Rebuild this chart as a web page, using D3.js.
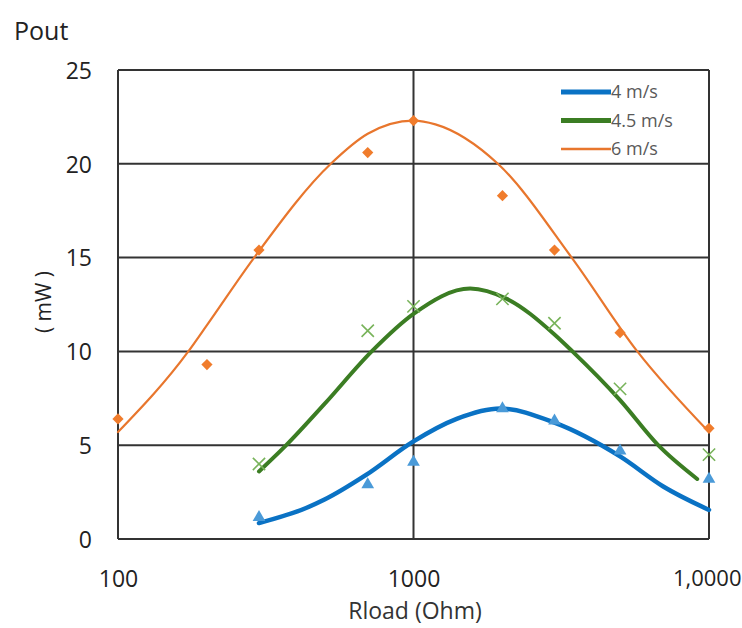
<!DOCTYPE html>
<html>
<head>
<meta charset="utf-8">
<script src="https://cdn.jsdelivr.net/npm/d3@7"></script>
<style>
  body { margin: 0; background: #fff; }
  text { font-family: "Open Sans", "Noto Sans", sans-serif; }
</style>
</head>
<body>
<script>
// measured points
const rload = [300, 700, 1000, 2000, 3000, 5000, 10000];
const p4 = [1.15, 2.9, 4.1, 6.95, 6.3, 4.7, 3.2];
const p45 = [4.0, 11.1, 12.4, 12.8, 11.5, 8.0, 4.5];
const rload6 = [100, 200, 300, 700, 1000, 2000, 3000, 5000, 10000];
const p6 = [6.4, 9.3, 15.4, 20.6, 22.3, 18.3, 15.4, 11.0, 5.9];

// trend curves
const fit4x = [300, 433, 500, 689, 1000, 1400, 1963, 3000, 5000, 7000, 10000];
const fit4y = [0.85, 1.65, 2.1, 3.4, 5.2, 6.4, 6.95, 6.2, 4.4, 2.8, 1.55];
const fit45x = [300, 371, 500, 722, 1000, 1555, 2070, 3000, 3450, 5000, 6730, 9120];
const fit45y = [3.6, 5.0, 7.2, 10.0, 12.0, 13.35, 12.8, 10.9, 10.0, 7.4, 5.0, 3.2];
const fit6x = [100, 173, 200, 289, 525, 700, 1000, 1186, 1930, 3430, 5720, 10000];
const fit6y = [5.7, 10.0, 11.4, 15.0, 20.0, 21.6, 22.3, 22.1, 20.0, 15.0, 10.0, 5.7];

const yTicks = [0, 5, 10, 15, 20, 25];
const xTicks = [100, 1000, 10000];
const xTickLabels = ["100", "1000", "1,0000"];
const seriesNames = ["4 m/s", "4.5 m/s", "6 m/s"];

const W = 742, H = 628;
const plotL = 118, plotR = 709, plotT = 70, plotB = 539;

const svg = d3.select("body").append("svg")
  .attr("width", W).attr("height", H);

const x = d3.scaleLog().domain([100, 10000]).range([plotL, plotR]);
const y = d3.scaleLinear().domain([0, 25]).range([plotB, plotT]);

// grid
svg.append("g").selectAll("line")
  .data(yTicks)
  .enter().append("line")
  .attr("x1", plotL).attr("x2", plotR)
  .attr("y1", d => y(d)).attr("y2", d => y(d))
  .attr("stroke", "#333").attr("stroke-width", 2);

svg.append("g").selectAll("line")
  .data(xTicks)
  .enter().append("line")
  .attr("x1", d => x(d)).attr("x2", d => x(d))
  .attr("y1", plotT).attr("y2", plotB)
  .attr("stroke", "#333").attr("stroke-width", 2);

// tick labels through d3 axes, axis lines hidden
const yAxis = svg.append("g")
  .attr("transform", "translate(" + (plotL - 26) + ",0)")
  .call(d3.axisLeft(y).tickValues(yTicks).tickSize(0).tickPadding(0));
yAxis.select(".domain").remove();
yAxis.selectAll("text")
  .style("font-size", "23px").attr("fill", "#222")
  .style("font-family", "'Open Sans', sans-serif")
  .attr("dy", "0.36em");

const xAxis = svg.append("g")
  .attr("transform", "translate(0," + (plotB + 26) + ")")
  .call(d3.axisBottom(x).tickValues(xTicks).tickFormat((d, i) => xTickLabels[i]).tickSize(0).tickPadding(0));
xAxis.select(".domain").remove();
xAxis.selectAll("text")
  .style("font-size", "23px").attr("fill", "#222")
  .style("font-family", "'Open Sans', sans-serif")
  .attr("dy", "0.95em");
xAxis.selectAll("text")
  .filter((d, i) => i == 2)
  .attr("text-anchor", "end")
  .attr("x", 741 - x(10000))
  .style("font-size", "22px");

svg.append("text")
  .attr("x", 14).attr("y", 40)
  .style("font-size", "25px").attr("fill", "#222")
  .text("Pout");

svg.append("text")
  .attr("transform", "translate(51,302) rotate(-90)")
  .attr("text-anchor", "middle")
  .style("font-size", "21px").attr("fill", "#222")
  .text("( mW )");

svg.append("text")
  .attr("x", 415).attr("y", 619)
  .attr("text-anchor", "middle")
  .style("font-size", "23px").attr("fill", "#333")
  .text("Rload (Ohm)");

// curves
const line = d3.line()
  .x(d => x(d[0])).y(d => y(d[1]))
  .curve(d3.curveMonotoneX);

const curves = [
  {xs: fit4x, ys: fit4y, color: "#0a72c4", w: 4.5},
  {xs: fit45x, ys: fit45y, color: "#3b7d23", w: 4},
  {xs: fit6x, ys: fit6y, color: "#e8762d", w: 2.2}
];
curves.forEach(c => {
  svg.append("path")
    .datum(c.xs.map((v, i) => [v, c.ys[i]]))
    .attr("d", line)
    .attr("fill", "none")
    .attr("stroke", c.color)
    .attr("stroke-width", c.w)
    .attr("stroke-linecap", "round");
});

// markers
svg.append("g").selectAll("path")
  .data(rload.map((v, i) => [v, p4[i]]))
  .enter().append("path")
  .attr("d", d3.symbol(d3.symbolTriangle, 70))
  .attr("transform", d => "translate(" + x(d[0]) + "," + y(d[1]) + ")")
  .attr("fill", "#4a9ad8");

svg.append("g").selectAll("path")
  .data(rload.map((v, i) => [v, p45[i]]))
  .enter().append("path")
  .attr("d", d3.symbol(d3.symbolTimes, 100))
  .attr("transform", d => "translate(" + x(d[0]) + "," + y(d[1]) + ")")
  .attr("fill", "none")
  .attr("stroke", "#78b35a")
  .attr("stroke-width", 1.6);

svg.append("g").selectAll("path")
  .data(rload6.map((v, i) => [v, p6[i]]))
  .enter().append("path")
  .attr("d", d3.symbol(d3.symbolDiamond2, 80))
  .attr("transform", d => "translate(" + x(d[0]) + "," + y(d[1]) + ")")
  .attr("fill", "#f07c2c");

// legend
const lg = svg.append("g");
const legendColors = ["#0a72c4", "#3b7d23", "#e8762d"];
const legendW = [5, 5, 2.5];
seriesNames.forEach((name, i) => {
  const ly = 92 + i * 28.5;
  lg.append("line")
    .attr("x1", 561).attr("x2", 611)
    .attr("y1", ly).attr("y2", ly)
    .attr("stroke", legendColors[i])
    .attr("stroke-width", legendW[i]);
  lg.append("text")
    .attr("x", 611).attr("y", ly + 6)
    .style("font-size", "18px").attr("fill", "#595959")
    .text(name);
});
</script>
</body>
</html>
